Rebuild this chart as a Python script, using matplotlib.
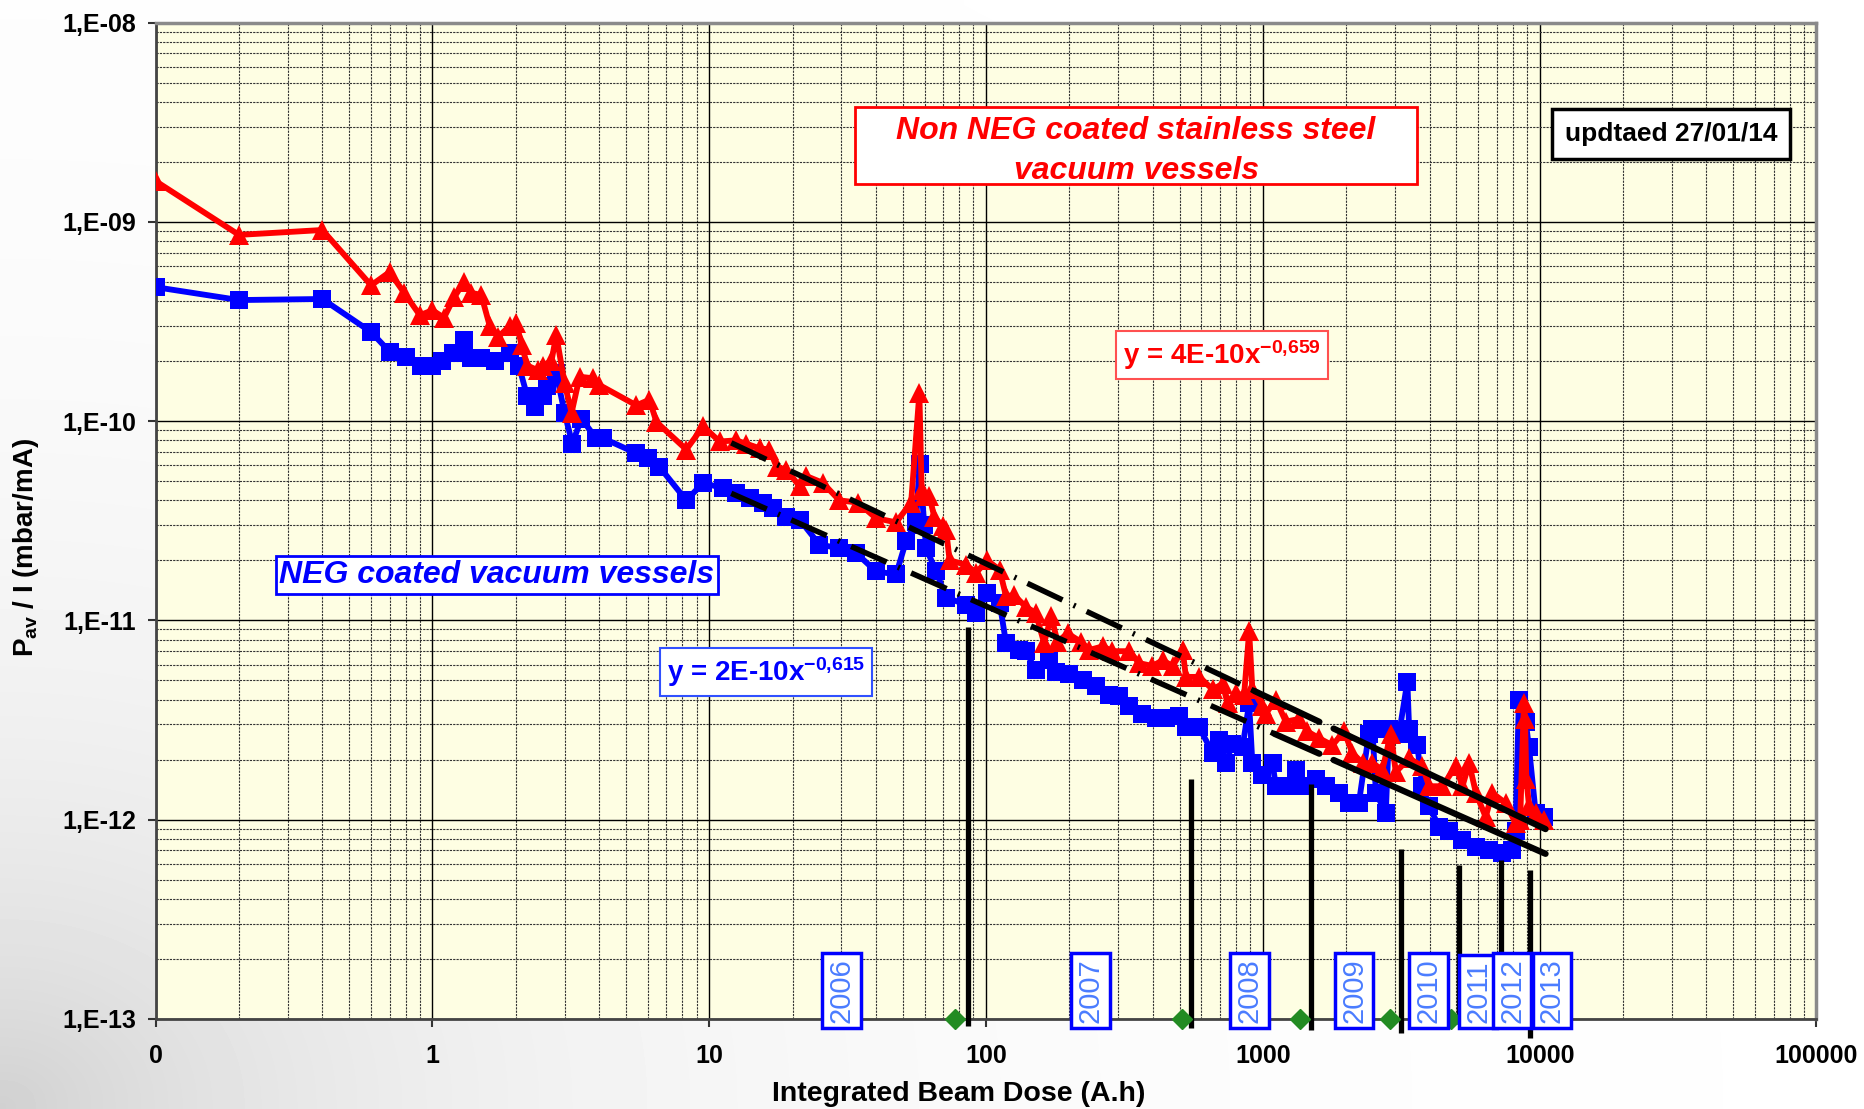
import numpy as np
import matplotlib
matplotlib.use("Agg")
import matplotlib.pyplot as plt
from matplotlib import font_manager as fm
import matplotlib.transforms as mtrans
from matplotlib.patches import Rectangle

# ---------------- data ----------------
red_x = [0.1, 0.2, 0.4, 0.6, 0.7, 0.79, 0.9, 1.0, 1.1, 1.2, 1.3, 1.38, 1.5, 1.61, 1.73, 1.9, 2.01,
         2.1, 2.2, 2.4, 2.5, 2.69, 2.8, 3.0, 3.18, 3.4, 3.8, 4.0, 5.45, 6.08, 6.44, 8.26, 9.5, 10.9,
         12.5, 13.6, 15.2, 16.5, 17.5, 19, 21.2, 22.4, 25.7, 29.5, 34.4, 40, 47.3, 53.6, 57.4, 58.5,
         59.8, 62.4, 65, 69.7, 71.7, 73.8, 84.7, 92, 101, 112, 118, 126, 139, 151, 162, 172, 181,
         197, 220, 236, 264, 286, 329, 357, 399, 434, 472, 513, 527, 589, 658, 715, 745, 799, 855,
         892, 916, 996, 1025, 1113, 1210, 1352, 1448, 1596, 1783, 1965, 2105, 2290, 2488, 2704,
         2897, 3020, 3375, 3770, 3980, 4450, 4975, 5260, 5560, 5880, 6380, 6740, 7530, 8180, 8500,
         8770, 8850, 8950, 9150, 9670, 10370]
red_y = [1.6e-9, 8.6e-10, 9.1e-10, 4.8e-10, 5.6e-10, 4.4e-10, 3.4e-10, 3.6e-10, 3.3e-10, 4.2e-10,
         5.0e-10, 4.4e-10, 4.3e-10, 3.0e-10, 2.65e-10, 3.0e-10, 3.1e-10, 2.4e-10, 1.9e-10, 1.8e-10,
         1.9e-10, 2.0e-10, 2.7e-10, 1.55e-10, 1.1e-10, 1.67e-10, 1.64e-10, 1.52e-10, 1.2e-10,
         1.28e-10, 9.9e-11, 7.2e-11, 9.4e-11, 7.9e-11, 8.0e-11, 7.7e-11, 7.3e-11, 7.2e-11, 5.9e-11,
         5.7e-11, 4.7e-11, 5.3e-11, 4.9e-11, 4.0e-11, 3.9e-11, 3.26e-11, 3.1e-11, 3.9e-11, 1.38e-10,
         4.5e-11, 4.2e-11, 4.2e-11, 3.3e-11, 2.96e-11, 2.85e-11, 2.0e-11, 1.9e-11, 1.73e-11, 2.0e-11,
         1.79e-11, 1.32e-11, 1.34e-11, 1.17e-11, 1.09e-11, 7.7e-12, 1.05e-11, 7.8e-12, 8.6e-12,
         7.8e-12, 7.1e-12, 7.4e-12, 7.0e-12, 7.0e-12, 6.1e-12, 5.9e-12, 6.3e-12, 5.9e-12, 7.1e-12,
         5.2e-12, 5.2e-12, 4.5e-12, 4.8e-12, 3.84e-12, 4.3e-12, 4.2e-12, 8.8e-12, 4.5e-12, 3.7e-12,
         3.4e-12, 4.0e-12, 3.1e-12, 3.2e-12, 2.77e-12, 2.56e-12, 2.36e-12, 2.77e-12, 2.16e-12,
         1.92e-12, 1.92e-12, 1.78e-12, 2.7e-12, 1.73e-12, 2.03e-12, 1.85e-12, 1.47e-12, 1.47e-12,
         1.85e-12, 1.47e-12, 1.92e-12, 1.36e-12, 1.03e-12, 1.36e-12, 1.21e-12, 9.6e-13, 1.0e-12,
         3.84e-12, 3.2e-12, 1.6e-12, 1.17e-12, 1.08e-12, 1.0e-12]

blue_x = [0.1, 0.2, 0.4, 0.6, 0.7, 0.8, 0.91, 1.0, 1.08, 1.19, 1.3, 1.38, 1.5, 1.68, 1.9, 2.05, 2.2,
          2.35, 2.5, 2.6, 2.8, 3.0, 3.2, 3.45, 3.9, 4.13, 5.45, 6.0, 6.6, 8.26, 9.5, 11.2, 12.5, 14,
          15.6, 17, 19, 21.2, 25, 29.5, 34, 40, 47.3, 51.4, 55.8, 57.5, 59.8, 60.7, 66, 71.7, 84.7,
          92, 101, 112, 118, 132, 139, 151, 169, 179, 200, 223, 250, 279, 303, 329, 367, 411, 447,
          499, 527, 589, 658, 695, 735, 776, 844, 892, 916, 996, 1084, 1113, 1210, 1315, 1390, 1555,
          1687, 1884, 2046, 2222, 2415, 2488, 2560, 2780, 2857, 3105, 3326, 3375, 3610, 3770, 3980,
          4330, 4700, 5260, 5880, 6560, 7330, 7960, 8180, 8410, 8900, 9150, 9670, 10370]
blue_y = [4.7e-10, 4.05e-10, 4.1e-10, 2.8e-10, 2.23e-10, 2.1e-10, 1.9e-10, 1.9e-10, 2.0e-10,
          2.2e-10, 2.55e-10, 2.07e-10, 2.07e-10, 2.0e-10, 2.2e-10, 1.9e-10, 1.33e-10, 1.18e-10,
          1.33e-10, 1.5e-10, 1.74e-10, 1.1e-10, 7.7e-11, 1.03e-10, 8.2e-11, 8.2e-11, 6.9e-11, 6.5e-11,
          5.9e-11, 4.0e-11, 4.9e-11, 4.6e-11, 4.35e-11, 4.1e-11, 3.9e-11, 3.66e-11, 3.3e-11, 3.2e-11,
          2.4e-11, 2.3e-11, 2.17e-11, 1.76e-11, 1.7e-11, 2.5e-11, 3.1e-11, 6.1e-11, 3.0e-11, 2.3e-11,
          1.76e-11, 1.3e-11, 1.2e-11, 1.09e-11, 1.37e-11, 1.22e-11, 7.7e-12, 7.1e-12, 7.0e-12,
          5.65e-12, 6.3e-12, 5.5e-12, 5.35e-12, 5.0e-12, 4.66e-12, 4.2e-12, 4.16e-12, 3.7e-12,
          3.4e-12, 3.23e-12, 3.23e-12, 3.3e-12, 2.9e-12, 2.9e-12, 2.16e-12, 2.5e-12, 1.92e-12,
          2.4e-12, 2.3e-12, 3.84e-12, 1.92e-12, 1.68e-12, 1.92e-12, 1.47e-12, 1.47e-12, 1.78e-12,
          1.47e-12, 1.6e-12, 1.47e-12, 1.36e-12, 1.21e-12, 1.21e-12, 2.7e-12, 2.85e-12, 1.36e-12,
          1.08e-12, 2.85e-12, 2.7e-12, 4.93e-12, 2.85e-12, 2.36e-12, 1.47e-12, 1.17e-12, 9.2e-13,
          8.8e-13, 7.9e-13, 7.3e-13, 7.06e-13, 6.8e-13, 7.06e-13, 8.8e-13, 4.0e-12, 3.1e-12,
          2.3e-12, 1.08e-12, 1.03e-12]

# power-law trend lines  y = a * x^b
fit_a = [4e-10, 2e-10]
fit_b = [-0.659, -0.615]
fit_labels = ["y = 4E-10x$^{-0{,}659}$", "y = 2E-10x$^{-0{,}615}$"]
fit_dash_start = [12, 12]
fit_dash_end = [930, 1100]
fit_solid1_end = [1600, 1600]
fit_solid2 = [1800, 10500]

# year boundaries
year_line_x = [86, 548, 1490, 3148, 5130, 7230, 9230]
year_line_top = [9.3e-12, 1.6e-12, 1.5e-12, 7.1e-13, 5.9e-13, 6.3e-13, 5.6e-13]
year_line_bottom = [9.2e-14, 9.0e-14, 8.8e-14, 8.5e-14, 9.4e-14, 9.4e-14, 8.0e-14]
year_labels = ["2006", "2007", "2008", "2009", "2010", "2011", "2012", "2013"]
year_label_x = [30, 238, 896, 2138, 3970, 5997, 7950, 11070]
diamond_x = [77.5, 512, 1365, 2884, 4786, 6676, 8710]

x_ticks = [0.1, 1, 10, 100, 1000, 10000, 100000]
x_ticklabels = ["0", "1", "10", "100", "1000", "10000", "100000"]
y_ticks = [1e-13, 1e-12, 1e-11, 1e-10, 1e-9, 1e-8]
y_ticklabels = ["1,E-13", "1,E-12", "1,E-11", "1,E-10", "1,E-09", "1,E-08"]

# ---------------- fonts ----------------
names = {f.name for f in fm.fontManager.ttflist}
FONT = "Liberation Sans Narrow" if "Liberation Sans Narrow" in names else "Liberation Sans"
plt.rcParams["font.family"] = [FONT, "DejaVu Sans"]
plt.rcParams["font.weight"] = "bold"
plt.rcParams["mathtext.fontset"] = "custom"
plt.rcParams["mathtext.rm"] = FONT + ":bold"
plt.rcParams["mathtext.bf"] = FONT + ":bold"
plt.rcParams["mathtext.it"] = FONT + ":bold:italic"
plt.rcParams["mathtext.default"] = "rm"

W, H = 1864, 1109
fig = plt.figure(figsize=(W / 100, H / 100), dpi=100)
fig.patch.set_facecolor("white")

# soft grey backdrop in lower-left corner
bg = fig.add_axes([0, 0, 1, 1], zorder=-10)
gy, gx = np.mgrid[0:111, 0:187]
d = np.hypot(gx * 10.0, gy * 10.0 * 1.3)
img = 1 - 0.18 * np.exp(-d / 450.0)
bg.imshow(img, cmap="gray", vmin=0, vmax=1, origin="lower", aspect="auto",
          extent=[0, 1, 0, 1], interpolation="bilinear")
bg.axis("off")

L, R, T, B = 155.7, 1816.5, 22.6, 1018.8
ax = fig.add_axes([L / W, 1 - B / H, (R - L) / W, (B - T) / H])
ax.set_facecolor("#FEFEE3")
ax.set_xscale("log")
ax.set_yscale("log")
ax.set_xlim(0.1, 100000)
ax.set_ylim(1e-13, 1e-8)

ax.set_xticks(x_ticks)
ax.set_xticklabels(x_ticklabels)
ax.set_yticks(y_ticks)
ax.set_yticklabels(y_ticklabels)
ax.xaxis.set_minor_locator(matplotlib.ticker.LogLocator(base=10, subs=np.arange(2, 10), numticks=20))
ax.yaxis.set_minor_locator(matplotlib.ticker.LogLocator(base=10, subs=np.arange(2, 10), numticks=20))
ax.xaxis.set_minor_formatter(matplotlib.ticker.NullFormatter())
ax.yaxis.set_minor_formatter(matplotlib.ticker.NullFormatter())
ax.tick_params(which="major", length=6, width=1.5, color="#333333", labelsize=18)
ax.tick_params(axis="y", pad=8)
ax.tick_params(axis="x", pad=12)
ax.tick_params(which="minor", length=0)
for lab in ax.get_xticklabels() + ax.get_yticklabels():
    lab.set_fontweight("bold")

ax.grid(which="major", color="black", linewidth=1.0, linestyle="-")
ax.grid(which="minor", color="#333333", linewidth=0.8, linestyle=(0, (2, 1)))
ax.set_axisbelow(True)

for s in ["left", "bottom"]:
    ax.spines[s].set_color("#444444")
    ax.spines[s].set_linewidth(2)
for s in ["top", "right"]:
    ax.spines[s].set_color("#8a8a8a")
    ax.spines[s].set_linewidth(2.5)

# data series
ax.plot(blue_x, blue_y, color="#0000FF", lw=4.2, marker="s", markersize=12.5, zorder=3,
        markeredgewidth=0)
ax.plot(red_x, red_y, color="#FF0000", lw=4.2, marker="^", markersize=14, zorder=4,
        markeredgewidth=0)

# trend lines
for a, b, x0, x1, x2 in zip(fit_a, fit_b, fit_dash_start, fit_dash_end, fit_solid1_end):
    xs = np.geomspace(x0, x1, 200)
    ax.plot(xs, a * xs ** b, color="black", lw=4, linestyle=(0, (7, 2.2, 0.4, 2.2)), zorder=5)
    xs = np.geomspace(x1, x2, 100)
    ax.plot(xs, a * xs ** b, color="black", lw=4.5, solid_capstyle="round", zorder=5)
    xs = np.geomspace(fit_solid2[0], fit_solid2[1], 100)
    ax.plot(xs, a * xs ** b, color="black", lw=4.5, solid_capstyle="round", zorder=5)

# year boundary lines
for xv, yt, yb in zip(year_line_x, year_line_top, year_line_bottom):
    ax.plot([xv, xv], [yb, yt], color="black", lw=3.8, zorder=6, clip_on=False,
            solid_capstyle="butt")

# green diamonds at the baseline
ax.plot(diamond_x, [1e-13] * len(diamond_x), linestyle="none", marker="D", markersize=10,
        color="#228B22", clip_on=False, zorder=6)

# year labels
trans = mtrans.blended_transform_factory(ax.transData, ax.transAxes)
for xv, lab in zip(year_label_x, year_labels):
    ax.text(xv, -0.004, lab, rotation=90, ha="center", va="bottom", transform=trans,
            fontsize=21, fontweight="normal", color="#4A7CFF", family=["Liberation Sans", "DejaVu Sans"],
            bbox=dict(boxstyle="square,pad=0.18", fc="white", ec="#0000FF", lw=2.5),
            zorder=8, clip_on=False)

# annotation boxes
ax.add_patch(Rectangle((0.4211, 0.838), 0.7595 - 0.4211, 0.9153 - 0.838, transform=ax.transAxes,
                       facecolor="white", edgecolor="#FF0000", lw=2, zorder=9))
ax.text(0.5903, 0.8711, "Non NEG coated stainless steel\nvacuum vessels", transform=ax.transAxes,
        ha="center", va="center", fontsize=23, fontstyle="italic", fontweight="bold",
        color="#FF0000", linespacing=1.4, zorder=10)
ax.text(0.9124, 0.8882, "updtaed 27/01/14", transform=ax.transAxes, ha="center", va="center",
        fontsize=19, fontweight="bold", color="black",
        bbox=dict(boxstyle="square,pad=0.5", fc="white", ec="black", lw=2.5), zorder=9)
ax.text(0.642, 0.6663, fit_labels[0], transform=ax.transAxes, ha="center", va="center",
        fontsize=20, color="#FF0000",
        bbox=dict(boxstyle="square,pad=0.25", fc="white", ec="#FF5050", lw=1.5), zorder=9)
ax.text(0.2055, 0.4455, "NEG coated vacuum vessels", transform=ax.transAxes, ha="center",
        va="center", fontsize=23, fontstyle="italic", fontweight="bold", color="#0000FF",
        bbox=dict(boxstyle="square,pad=0.12", fc="white", ec="#0000FF", lw=2), zorder=9)
ax.text(0.3674, 0.3481, fit_labels[1], transform=ax.transAxes, ha="center", va="center",
        fontsize=20, color="#0000FF",
        bbox=dict(boxstyle="square,pad=0.25", fc="white", ec="#3050FF", lw=1.5), zorder=9)

# axis labels
fig.text(959 / W, 1 - 1094 / H, "Integrated Beam Dose (A.h)", ha="center", va="center",
         fontsize=20.5, fontweight="bold")
fig.text(26 / W, 1 - 547 / H, "P$_{av}$ / I (mbar/mA)", ha="center", va="center",
         rotation=90, fontsize=20, fontweight="bold")

fig.savefig("out.png", dpi=100, facecolor="white")
